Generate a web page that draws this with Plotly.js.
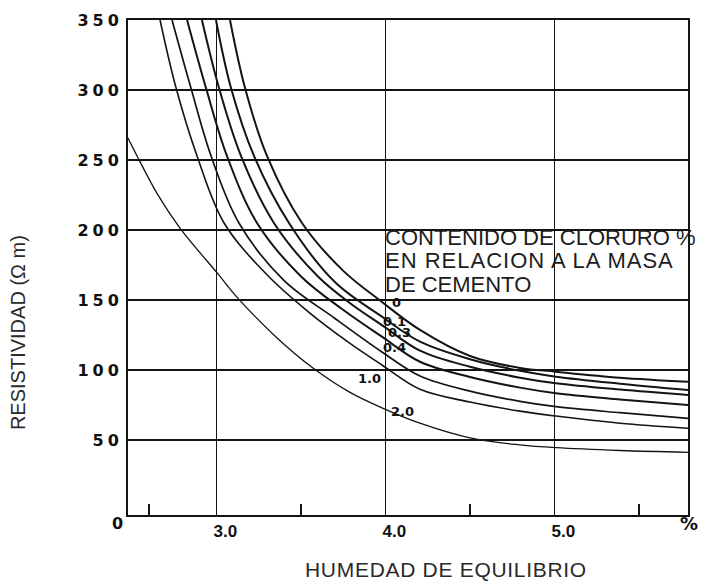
<!DOCTYPE html>
<html>
<head>
<meta charset="utf-8">
<script src="https://cdn.plot.ly/plotly-3.0.1.min.js"></script>
<style>html,body{margin:0;padding:0;background:#fff;}</style>
</head>
<body>
<div id="chart" style="width:701px;height:586px;"></div>
<script>
// Chloride content (% by mass of cement) of each curve
const curveNames = ["0", "0.1", "0.3", "0.4", "0.6", "1.0", "2.0"];

// Equilibrium moisture (%) and resistivity (ohm m)
const x0pct  = [3.081, 3.170, 3.300, 3.507, 3.750, 3.980, 4.205, 4.501, 4.797, 5.010, 5.389, 5.791];
const r0pct  = [350, 301.4, 252.9, 205, 171, 148.6, 128.6, 110, 101.5, 98.8, 94.5, 91.6];

const x01pct = [2.998, 3.087, 3.223, 3.430, 3.700, 3.980, 4.205, 4.501, 4.797, 5.010, 5.389, 5.791];
const r01pct = [350, 301.4, 252.9, 205, 163, 138.1, 120.2, 107.7, 99.4, 95.2, 90.2, 85.7];

const x03pct = [2.915, 3.016, 3.146, 3.341, 3.600, 3.800, 3.980, 4.205, 4.501, 4.797, 5.010, 5.389, 5.791];
const r03pct = [350, 301.4, 252.9, 205, 167, 147, 132.1, 113.8, 102.3, 94.5, 90.5, 86, 82.1];

const x04pct = [2.827, 2.939, 3.063, 3.241, 3.500, 3.750, 3.980, 4.205, 4.501, 4.797, 5.010, 5.389, 5.791];
const r04pct = [350, 301.4, 252.9, 205, 167, 143, 123.8, 105.9, 95, 87.4, 83.4, 79, 75];

const x06pct = [2.738, 2.850, 2.969, 3.134, 3.400, 3.700, 3.980, 4.205, 4.501, 4.797, 5.010, 5.389, 5.791];
const r06pct = [350, 301.4, 252.9, 205, 164, 137, 112.9, 95.7, 84.9, 77.6, 73.8, 69.5, 65.5];

const x10pct = [2.667, 2.762, 2.886, 3.046, 3.300, 3.550, 3.791, 3.980, 4.205, 4.501, 4.797, 5.010, 5.389, 5.791];
const r10pct = [350, 301.4, 252.9, 205, 168, 141, 119, 103.6, 86.2, 77.1, 70.6, 67.1, 62, 58.4];

const x20pct = [2.4775, 2.531, 2.650, 2.785, 3.010, 3.122, 3.350, 3.572, 3.791, 3.980, 4.205, 4.501, 4.797, 5.010, 5.389, 5.791];
const r20pct = [265.7, 252.9, 226, 201.4, 168.6, 152.1, 124, 101.4, 84, 73, 62, 51.5, 46.5, 44.5, 42.5, 41.2];

// Axis ticks
const xTickVals = [3, 4, 5];
const xTickLabels = ["3.0", "4.0", "5.0"];
const yTickVals = [50, 100, 150, 200, 250, 300, 350];
const yTickLabels = ["50", "100", "150", "200", "250", "300", "350"];

// Curve labels as written on the figure
const curveLabelTexts = ["0", "0.1", "0.3", "0.4", "1.0", "2.0"];

const xs = [x0pct, x01pct, x03pct, x04pct, x06pct, x10pct, x20pct];
const ys = [r0pct, r01pct, r03pct, r04pct, r06pct, r10pct, r20pct];
const widths = [2, 2, 2, 2, 1.7, 1.6, 1.3];

const traces = xs.map((xv, i) => ({
  type: 'scatter', mode: 'lines', name: curveNames[i],
  x: xv, y: ys[i],
  line: {color: '#141414', width: widths[i], shape: 'spline', smoothing: 1},
  hoverinfo: 'skip'
}));

// label placements (layout only)
const labelPos = [[4.069, 147.9], [4.057, 135], [4.081, 126.5], [4.057, 116.4], [3.909, 93.6], [4.099, 70.7]];

const annotations = curveLabelTexts.map((t, i) => ({
  x: labelPos[i][0], y: labelPos[i][1], xref: 'x', yref: 'y', xanchor: 'center', yanchor: 'middle',
  text: '<b>' + t + '</b>',
  showarrow: false, font: {family: 'DejaVu Sans', size: 13, color: '#111'}
}));

const boxLines = [
  ['CONTENIDO DE CLORURO %', 194.6, 0],
  ['EN RELACION A LA MASA', 178.2, 1.0],
  ['DE CEMENTO', 161.1, 0]
];
boxLines.forEach(b => annotations.push({
  x: 3.9864, y: b[1], xref: 'x', yref: 'y', xanchor: 'left', yanchor: 'middle',
  text: '<span style="letter-spacing:' + b[2] + 'px">' + b[0] + '</span>', showarrow: false,
  font: {family: 'Liberation Sans', size: 22, color: '#1c1c1c'}
}));

annotations.push({
  x: -0.196, y: 0.368, xref: 'paper', yref: 'paper', xanchor: 'center', yanchor: 'middle', textangle: -90,
  text: 'RESISTIVIDAD (Ω m)', showarrow: false,
  font: {family: 'Liberation Sans', size: 20, color: '#2a2a2a'}
});
annotations.push({
  x: 0.568, y: -0.111, xref: 'paper', yref: 'paper', xanchor: 'center', yanchor: 'middle',
  text: '<span style="letter-spacing:0.7px">HUMEDAD DE EQUILIBRIO</span>', showarrow: false,
  font: {family: 'Liberation Sans', size: 21, color: '#2a2a2a'}
});
annotations.push({
  x: 1.002, y: -0.018, xref: 'paper', yref: 'paper', xanchor: 'center', yanchor: 'middle',
  text: '<b>%</b>', showarrow: false,
  font: {family: 'DejaVu Sans', size: 18, color: '#111'}
});
annotations.push({
  x: -0.0196, y: -0.018, xref: 'paper', yref: 'paper', xanchor: 'center', yanchor: 'middle',
  text: '<b>0</b>', showarrow: false,
  font: {family: 'DejaVu Sans', size: 16, color: '#111'}
});

const layout = {
  width: 701, height: 586,
  margin: {l: 128, r: 13, t: 20, b: 71, pad: 0},
  paper_bgcolor: '#ffffff', plot_bgcolor: '#ffffff',
  showlegend: false,
  xaxis: {
    range: [2.4775, 5.791], tickmode: 'array', tickvals: xTickVals,
    ticktext: xTickLabels.map(t => '<b>' + t + '</b>'),
    showgrid: true, gridcolor: '#141414', gridwidth: 1.5,
    showline: true, mirror: true, linecolor: '#141414', linewidth: 2,
    zeroline: false, ticks: '',
    tickfont: {family: 'Liberation Sans', size: 17, color: '#111'},
    ticklabelshift: 9, ticklabelstandoff: 0,
    minor: {tickmode: 'array', tickvals: [2.6, 3.5, 4.5, 5.5], ticks: 'inside', ticklen: 11, tickwidth: 1.6, tickcolor: '#141414', showgrid: false}
  },
  yaxis: {
    range: [-3.57, 350], tickmode: 'array', tickvals: yTickVals,
    ticktext: yTickLabels.map(t => '<b><span style="letter-spacing:4px">' + t + '</span></b>'),
    showgrid: true, gridcolor: '#141414', gridwidth: 1.5,
    showline: true, mirror: true, linecolor: '#141414', linewidth: 2,
    zeroline: false, ticks: '',
    tickfont: {family: 'DejaVu Sans', size: 16, color: '#111'},
    ticklabelstandoff: 0
  },
  annotations: annotations
};

Plotly.newPlot('chart', traces, layout, {displayModeBar: false, staticPlot: true});
</script>
</body>
</html>
